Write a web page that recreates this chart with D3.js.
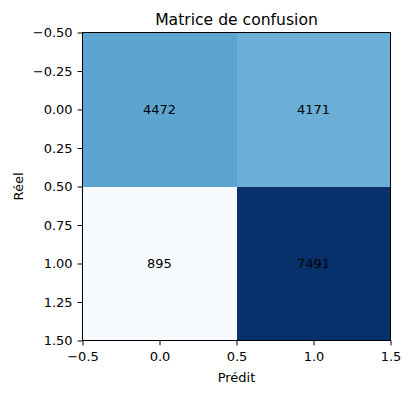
<!DOCTYPE html>
<html><head><meta charset="utf-8">
<script src="https://cdn.jsdelivr.net/npm/d3@7"></script>
<style>body{margin:0;background:#fff}svg{display:block}text{font-family:"DejaVu Sans",sans-serif}</style>
</head><body>
<svg id="c" width="410" height="393"></svg>
<script>
const rowsLabels = [0, 1];           // Réel
const colsLabels = [0, 1];           // Prédit
const values = [[4472, 4171], [895, 7491]];
const xTicks = [-0.5, 0.0, 0.5, 1.0, 1.5];
const yTicks = [-0.5, -0.25, 0.0, 0.25, 0.5, 0.75, 1.0, 1.25, 1.5];
const title = "Matrice de confusion";
const xLabel = "Prédit";
const yLabel = "Réel";

const bluesStops = ["#f7fbff","#deebf7","#c6dbef","#9ecae1","#6baed6","#4292c6","#2171b5","#08519c","#08306b"];

const svg = d3.select("#c");
const L = 82.5, T = 32.5, W = 308, H = 308;
const FS = 13;
const x = d3.scaleLinear().domain([-0.5, 1.5]).range([L, L + W]);
const y = d3.scaleLinear().domain([-0.5, 1.5]).range([T, T + H]);

const flat = values.flat();
const vmin = d3.min(flat), vmax = d3.max(flat);
const norm = d3.scaleLinear().domain([vmin, vmax]).range([0, 1]);
const cmap = d3.scaleLinear().domain(bluesStops.map((_, i) => i / (bluesStops.length - 1))).range(bluesStops).interpolate(d3.interpolateRgb);

const cells = [];
rowsLabels.forEach((r, i) => colsLabels.forEach((c, j) => cells.push({r, c, v: values[i][j]})));

svg.selectAll("rect.cell").data(cells).join("rect")
  .attr("x", d => x(d.c - 0.5)).attr("y", d => y(d.r - 0.5))
  .attr("width", d => x(d.c + 0.5) - x(d.c - 0.5))
  .attr("height", d => y(d.r + 0.5) - y(d.r - 0.5))
  .attr("shape-rendering", "crispEdges")
  .attr("fill", d => cmap(norm(d.v)));

svg.selectAll("text.val").data(cells).join("text")
  .attr("x", d => x(d.c)).attr("y", d => y(d.r) + 0.35 * FS)
  .attr("text-anchor", "middle")
  .attr("font-size", FS).attr("fill", "#000")
  .text(d => d.v);

const fmtY = d => (d < 0 ? "\u2212" : "") + Math.abs(d).toFixed(2);
const fmtX = d => (d < 0 ? "\u2212" : "") + Math.abs(d).toFixed(1);

const xAxis = svg.append("g").attr("transform", `translate(0,${T + H})`)
  .call(d3.axisBottom(x).tickValues(xTicks).tickFormat(fmtX).tickSize(4.9).tickPadding(6));
const yAxis = svg.append("g").attr("transform", `translate(${L},0)`)
  .call(d3.axisLeft(y).tickValues(yTicks).tickFormat(fmtY).tickSize(4.9).tickPadding(5));
[xAxis, yAxis].forEach(g => {
  g.select(".domain").remove();
  g.selectAll("line").attr("stroke", "#000").attr("stroke-width", 1);
  g.selectAll("text").attr("font-size", FS).attr("fill", "#000").attr("font-family", "DejaVu Sans");
});

svg.append("rect").attr("x", L).attr("y", T).attr("width", W).attr("height", H)
  .attr("fill", "none").attr("stroke", "#000").attr("stroke-width", 1);

svg.append("text").attr("x", L + W / 2).attr("y", T - 8).attr("text-anchor", "middle")
  .attr("font-size", 15.6).attr("fill", "#000").text(title);
svg.append("text").attr("x", L + W / 2).attr("y", 382).attr("text-anchor", "middle")
  .attr("font-size", FS).attr("fill", "#000").text(xLabel);
svg.append("text").attr("transform", `translate(22.5,${T + H / 2}) rotate(-90)`).attr("text-anchor", "middle")
  .attr("font-size", FS).attr("fill", "#000").text(yLabel);
</script>
</body></html>
